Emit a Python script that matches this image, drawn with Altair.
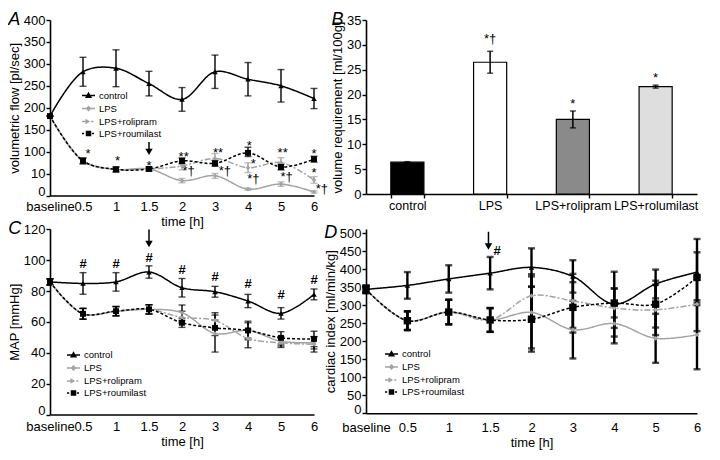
import json
import altair as alt
import pandas as pd

FONT = "Liberation Sans"

TIME_LABELS = ["baseline", "0.5", "1", "1.5", "2", "3", "4", "5", "6"]
SERIES = ["control", "LPS", "LPS+rolipram", "LPS+roumilast"]
SERIES_COLORS = ["#000000", "#a3a3a3", "#a3a3a3", "#000000"]
SERIES_DASH = [[1, 0], [1, 0], [6, 2, 2, 2], [3, 2]]
SERIES_SHAPES = ["triangle-up", "diamond", "diamond", "square"]
LEGEND_SYMBOLS = [
    "M-1,0L1,0M-0.38,0.3L0.38,0.3L0,-0.38Z",
    "M-1,0L1,0M-0.3,0L0,-0.3L0.3,0L0,0.3Z",
    "M-1,0L-0.1,0M-0.36,-0.26L0.06,0L-0.36,0.26ZM0.42,0L0.75,0",
    "M-1,0L-0.66,0M-0.32,-0.32L0.32,-0.32L0.32,0.32L-0.32,0.32ZM0.52,0L0.85,0",
]

# ---------------- Panel A: volumetric flow (segmented y axis) ----------------
A_MEAN = {
    "control": [181, 282, 290, 255, 219, 282, 265, 250, 221],
    "LPS": [181, 62, 27, 29, 6.8, 9, 2.9, 5.2, 1.6],
    "LPS+rolipram": [181, 62, 27, 29, 41, 72, 34, 55, 7.1],
    "LPS+roumilast": [181, 62, 27, 29, 62, 52, 95, 37, 69],
}
A_ERR = {
    "control": [0, 33, 42, 28, 27, 38, 38, 37, 23],
    "LPS": [0, 12, 10, 8, 1, 1.2, 0.5, 1, 0.5],
    "LPS+rolipram": [0, 12, 10, 8, 16, 20, 20, 20, 1.5],
    "LPS+roumilast": [0, 12, 10, 8, 12, 12, 15, 12, 12],
}
A_YTICKS = [0, 10, 100, 150, 200, 250, 300, 350, 400]
A_ANN_X = [1.15, 2.05, 3.0, 4.05, 4.2, 5.09, 5.3, 6.04, 6.16, 6.16, 7.05, 7.17, 8.0, 8.0, 8.24]
A_ANN_Y = [103, 77, 56, 93, 23, 105, 23, 122, 64, 7.8, 105, 8.7, 103, 27, 3.2]
A_ANN_T = ["*", "*", "*", "**", "*†", "**", "*†", "*", "*", "*†", "**", "*†", "*", "*", "*†"]
A_ARROW = (3.0, 122, 99)

# ---------------- Panel B: volume requirement ----------------
B_GROUPS = ["control", "LPS", "LPS+rolipram", "LPS+rolumilast"]
B_VAL = [6.4, 26.5, 15.0, 21.6]
B_ERR = [0.1, 2.2, 1.7, 0.3]
B_FILLS = ["#000000", "#ffffff", "#8a8a8a", "#dedede"]
B_ANN_T = ["", "*†", "*", "*"]
B_ANN_Y = [0, 31.7, 18.7, 24.0]

# ---------------- Panel C: MAP ----------------
C_MEAN = {
    "control": [86, 85, 86, 92.4, 82.2, 79.6, 73.6, 65.6, 77.9],
    "LPS": [86, 65.3, 67, 68.2, 66, 52.5, 54.5, 47.5, 46.5],
    "LPS+rolipram": [86, 65.3, 67, 68.2, 63, 61, 49.3, 46.5, 45.5],
    "LPS+roumilast": [86, 65.3, 67, 68.2, 59.5, 56.2, 54.5, 49.7, 49],
}
C_ERR = {
    "control": [2, 7, 6, 4, 6, 3.5, 4.3, 3.7, 3.5],
    "LPS": [2, 3.5, 3, 3, 5, 12, 6, 3, 4],
    "LPS+rolipram": [2, 3.5, 3, 3, 4, 5, 6, 3, 5],
    "LPS+roumilast": [2, 3.5, 3, 3, 3, 5, 5, 4, 5],
}
C_ANN_X = [1, 2, 3, 4, 5, 6, 7, 8]
C_ANN_Y = [98.4, 98.4, 102, 94.5, 89.8, 85, 77.9, 87.6]
C_ANN_T = ["#"] * 8
C_ARROW = (3.0, 120, 110.6)

# ---------------- Panel D: cardiac index ----------------
D_MEAN = {
    "control": [344, 355, 373, 389, 405, 380, 303, 359, 392],
    "LPS": [344, 257, 281, 259, 280, 232, 249, 208, 218],
    "LPS+rolipram": [344, 257, 281, 259, 326, 312, 292, 287, 303],
    "LPS+roumilast": [344, 257, 281, 259, 261, 294, 306, 303, 377],
}
D_ERR = {
    "control": [10, 37, 38, 45, 53, 45, 90, 40, 92],
    "LPS": [10, 26, 34, 33, 100, 80, 55, 68, 96],
    "LPS+rolipram": [10, 26, 34, 33, 60, 75, 55, 70, 75],
    "LPS+roumilast": [10, 26, 34, 33, 90, 70, 40, 65, 70],
}
D_ANN_X = [3.17]
D_ANN_Y = [454]
D_ANN_T = ["#"]
D_ARROW = (2.96, 504, 463)

LABEL_EXPR = json.dumps(TIME_LABELS) + "[datum.value]"
ZERO_LABEL_LIFT = {"condition": {"test": "datum.value == 0", "value": -4}, "value": 0}


def a_pos(v):
    """Segmented axis of panel A: 0-10, 10-100 and each 50 above 100 take one equal step."""
    if v <= 10:
        return v / 10.0
    if v <= 100:
        return 1 + (v - 10) / 90.0
    return 2 + (v - 100) / 50.0


def ident(v):
    return v


def series_df(means, errs, s, ymap):
    return pd.DataFrame({
        "series": s,
        "idx": list(range(len(means[s]))),
        "val": [ymap(m) for m in means[s]],
        "lo": [ymap(m - e) for m, e in zip(means[s], errs[s])],
        "hi": [ymap(m + e) for m, e in zip(means[s], errs[s])],
    })


def line_panel(means, errs, width, height, ydomain, yticks, ytitle, letter, legend_xy,
               ann, arrow, err_black, err_width, sq_size, xlab_pad, legend_y_val,
               ymap=ident, ylabels=None):
    xs = alt.Scale(domain=[0, len(TIME_LABELS) - 1], nice=False, zero=False)
    x_axis = alt.Axis(values=list(range(len(TIME_LABELS))), labelExpr=LABEL_EXPR, title="time [h]",
                      ticks=False, labelPadding=xlab_pad, titlePadding=2, labelOverlap=False,
                      labelFlush=False)
    ys = alt.Scale(domain=ydomain, nice=False, zero=False)
    yvals = [ymap(t) for t in yticks]
    ykw = dict(values=yvals, title=ytitle, titlePadding=2, labelPadding=1, labelOverlap=False,
               labelFlush=False, labelOffset=ZERO_LABEL_LIFT)
    if ylabels is not None:
        ykw["labelExpr"] = json.dumps(ylabels) + "[round(datum.value)]"
    y_axis = alt.Axis(**ykw)

    def X(field="idx"):
        return alt.X(f"{field}:Q", scale=xs, axis=x_axis)

    def Y(field):
        return alt.Y(f"{field}:Q", scale=ys, axis=y_axis)

    layers = []
    for s, col in zip(SERIES, SERIES_COLORS):
        df = series_df(means, errs, s, ymap)
        c = "black" if err_black else col
        layers.append(alt.Chart(df).mark_errorbar(ticks=True, size=7, thickness=err_width, color=c).encode(
            x=X(), y=Y("lo"), y2="hi:Q"))
    for s, col, dash in zip(SERIES, SERIES_COLORS, SERIES_DASH):
        df = series_df(means, errs, s, ymap)
        layers.append(alt.Chart(df).mark_line(interpolate="catmull-rom", strokeWidth=1.5, color=col,
                                              strokeDash=dash).encode(x=X(), y=Y("val")))
    for s, col, shp in zip(SERIES, SERIES_COLORS, SERIES_SHAPES):
        df = series_df(means, errs, s, ymap)
        size = sq_size if shp == "square" else (30 if shp == "triangle-up" else 22)
        layers.append(alt.Chart(df).mark_point(shape=shp, filled=True, size=size, opacity=1,
                                               color=col).encode(x=X(), y=Y("val")))

    adf = pd.DataFrame({"idx": ann[0], "val": [ymap(v) for v in ann[1]], "label": ann[2]})
    stars = adf[adf["label"].isin(["*", "**"])]
    others = adf[~adf["label"].isin(["*", "**"])]
    if len(stars):
        layers.append(alt.Chart(stars).mark_text(font=FONT, fontSize=13, dy=4, baseline="middle",
                                                 color="black").encode(
            x=X(), y=Y("val"), text="label:N"))
    if len(others):
        bold = "bold" if others["label"].iloc[0] == "#" else "normal"
        layers.append(alt.Chart(others).mark_text(font=FONT, fontSize=13, dy=1, baseline="middle",
                                                  color="black", fontWeight=bold).encode(
            x=X(), y=Y("val"), text="label:N"))

    ardf = pd.DataFrame({"idx": [arrow[0]], "top": [ymap(arrow[1])], "head": [ymap(arrow[2])]})
    layers.append(alt.Chart(ardf).mark_rule(strokeWidth=1.5, color="black").encode(
        x=X(), y=Y("top"), y2="head:Q"))
    layers.append(alt.Chart(ardf).mark_point(shape="triangle-down", filled=True, size=55,
                                             color="black", opacity=1).encode(x=X(), y=Y("head")))

    leg = alt.Legend(title=None, orient="none", legendX=legend_xy[0], legendY=legend_xy[1],
                     labelFontSize=9.5, labelFont=FONT, labelColor="black", symbolSize=170,
                     symbolStrokeWidth=1.3, rowPadding=0, labelOffset=3, padding=0)
    ldf = pd.DataFrame({"series": SERIES, "idx": [-1] * 4, "val": [ymap(legend_y_val)] * 4})
    layers.append(alt.Chart(ldf).mark_point(filled=True, opacity=1, clip=True).encode(
        x=X(), y=Y("val"),
        color=alt.Color("series:N", scale=alt.Scale(domain=SERIES, range=SERIES_COLORS), legend=leg),
        stroke=alt.Stroke("series:N", scale=alt.Scale(domain=SERIES, range=SERIES_COLORS), legend=leg),
        shape=alt.Shape("series:N", scale=alt.Scale(domain=SERIES, range=LEGEND_SYMBOLS), legend=leg),
    ))

    return alt.layer(*layers).properties(
        width=width, height=height,
        title=alt.TitleParams(letter, anchor="start", frame="bounds", fontSize=18, fontStyle="italic",
                              fontWeight="normal", font=FONT, color="black", dy=19),
    )


panel_a = line_panel(A_MEAN, A_ERR, 264, 175.5, [0, a_pos(400)], A_YTICKS, "volumetric flow [pl/sec]", "A",
                     (31, 68), (A_ANN_X, A_ANN_Y, A_ANN_T), A_ARROW, False, 1.4, 35, 5, 100,
                     ymap=a_pos, ylabels=[str(t) for t in A_YTICKS])

panel_c = line_panel(C_MEAN, C_ERR, 264, 185.5, [0, 120.3],
                     list(range(0, 121, 20)), "MAP [mmHg]", "C",
                     (16, 118.5), (C_ANN_X, C_ANN_Y, C_ANN_T), C_ARROW, True, 1.4, 35, 6, 60)

panel_d = line_panel(D_MEAN, D_ERR, 331, 184.2, [0, 511.7],
                     list(range(0, 501, 50)), "cardiac index [ml/min/kg]", "D",
                     (18, 117.5), (D_ANN_X, D_ANN_Y, D_ANN_T), D_ARROW, True, 2.4, 55, 8, 250)

# Panel B
bdf = pd.DataFrame({"group": B_GROUPS, "val": B_VAL,
                    "lo": [v - e for v, e in zip(B_VAL, B_ERR)],
                    "hi": [v + e for v, e in zip(B_VAL, B_ERR)],
                    "label": B_ANN_T, "ann": B_ANN_Y})
b_xscale = alt.Scale(domain=B_GROUPS, paddingInner=0.6, paddingOuter=0.3)
b_xaxis = alt.Axis(title=None, labelAngle=0, tickBand="extent", labelPadding=1, ticks=True,
                   labelFontSize=12.5)
b_yscale = alt.Scale(domain=[0, 35], nice=False)
b_yaxis = alt.Axis(values=list(range(0, 36, 5)), title="volume requirement [ml/100g]",
                   titlePadding=2, labelPadding=1, labelFlush=False)
BX = alt.X("group:N", sort=B_GROUPS, scale=b_xscale, axis=b_xaxis)
bbars = alt.Chart(bdf).mark_bar(stroke="black", strokeWidth=1.2).encode(
    x=BX,
    y=alt.Y("val:Q", scale=b_yscale, axis=b_yaxis),
    fill=alt.Fill("group:N", scale=alt.Scale(domain=B_GROUPS, range=B_FILLS), legend=None),
)
berr = alt.Chart(bdf).mark_errorbar(ticks=True, size=6, thickness=1.5, color="black").encode(
    x=BX, y=alt.Y("lo:Q", scale=b_yscale, axis=b_yaxis), y2="hi:Q")
btext = alt.Chart(bdf).transform_filter("datum.label != ''").mark_text(
    font=FONT, fontSize=13, baseline="middle", dy=3, color="black").encode(
    x=BX, y=alt.Y("ann:Q", scale=b_yscale, axis=b_yaxis), text="label:N")
panel_b = alt.layer(bbars, berr, btext).properties(
    width=331, height=174,
    title=alt.TitleParams("B", anchor="start", frame="bounds", fontSize=18, fontStyle="italic",
                          fontWeight="normal", font=FONT, color="black", dy=19),
)

chart = alt.concat(panel_a, panel_b, panel_c, panel_d, columns=2,
                   spacing={"row": 33, "column": 52}, bounds="flush", align="each").resolve_scale(
    color="independent", stroke="independent", shape="independent", fill="independent",
).properties(
    padding={"left": 0, "top": 3, "right": 0, "bottom": 0},
).configure_view(stroke=None).configure_axis(
    domainColor="black", domainWidth=1.6, tickColor="black", tickWidth=1.4, tickSize=4,
    labelColor="black", titleColor="black", labelFont=FONT, titleFont=FONT,
    labelFontSize=13, titleFontSize=13, titleFontWeight="normal", grid=False,
).configure_legend(labelFont=FONT)

chart.save("out.html", embed_options={"renderer": "svg", "actions": False})
